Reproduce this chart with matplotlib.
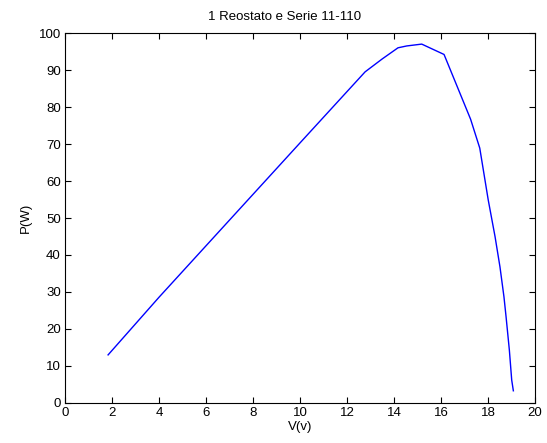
import matplotlib
matplotlib.use('Agg')
import matplotlib.pyplot as plt
import numpy as np

# voltage (V) and power (W) readings
volts = [1.83, 4.0, 10.0, 12.77, 13.5, 14.17, 14.54, 15.18, 16.13, 17.26, 17.65,
         18.01, 18.30, 18.51, 18.68, 18.77, 18.91, 19.01, 19.08]
power = [13.0, 28.6, 70.3, 89.5, 93.0, 96.0, 96.5, 97.0, 94.2, 76.7, 68.9,
         54.9, 45.0, 36.8, 28.7, 23.3, 14.3, 6.2, 3.3]

xticks = np.arange(0, 21, 2)
yticks = np.arange(0, 101, 10)

plt.rcParams['font.family'] = ['Liberation Sans', 'DejaVu Sans']

fig = plt.figure(figsize=(5.47, 4.43), dpi=100)
ax = fig.add_axes([0.119, 0.0903, 0.859, 0.8352])

ax.plot(volts, power, color='#0000ff', linewidth=1.0)

ax.set_xlim(0, 20)
ax.set_ylim(0, 100)
ax.set_xticks(xticks)
ax.set_yticks(yticks)
ax.tick_params(direction='in', length=4, width=0.8, top=True, right=True,
               labelsize=9.5, pad=3)
for s in ax.spines.values():
    s.set_linewidth(0.8)

fig.text(285 / 547, 1 - 17 / 443, '1 Reostato e Serie 11-110', fontsize=9.5,
         ha='center', va='center')
ax.set_xlabel('V(v)', fontsize=9.5, labelpad=1)
ax.set_ylabel('P(W)', fontsize=9.5, labelpad=5)

fig.savefig('out.png', dpi=100)
